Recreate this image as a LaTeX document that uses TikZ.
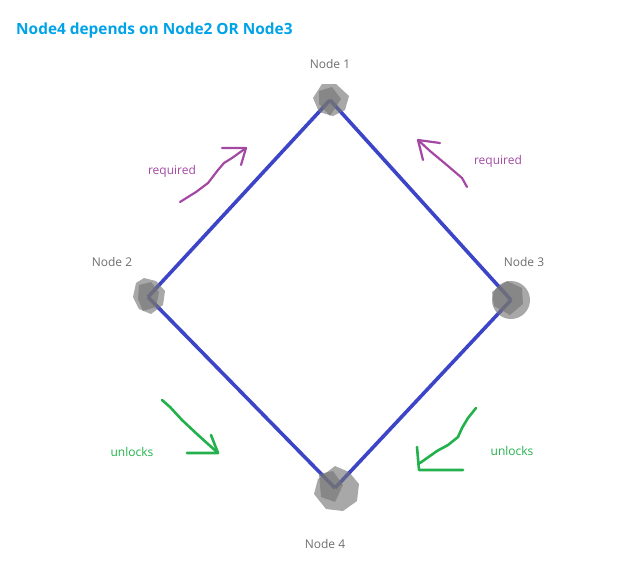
\documentclass[tikz,border=0pt]{standalone}
\usepackage{fontspec}
\setmainfont{Open Sans}
\usetikzlibrary{calc}
\definecolor{titleblue}{RGB}{0,162,232}
\definecolor{edgeblue}{RGB}{60,68,200}
\definecolor{nodegray}{RGB}{115,115,115}
\definecolor{labgray}{RGB}{110,110,110}
\definecolor{reqpurple}{RGB}{163,73,164}
\definecolor{unlgreen}{RGB}{34,177,76}
\tikzset{
  lbl/.style={font=\fontsize{12}{14}\selectfont, text=labgray, inner sep=0pt},
  edge/.style={draw=edgeblue, line width=3.6pt},
  blob/.style={fill=nodegray, fill opacity=0.62, draw=none},
  req/.style={draw=reqpurple, line width=2.2pt, line cap=round, line join=round},
  unl/.style={draw=unlgreen, line width=2.6pt, line cap=round, line join=round},
  reqtxt/.style={font=\fontsize{12}{14}\selectfont, text=reqpurple, inner sep=0pt},
  unltxt/.style={font=\fontsize{12}{14}\selectfont, text=unlgreen, inner sep=0pt},
  pt/.style={inner sep=0pt, minimum size=0pt}
}
\begin{document}
\begin{tikzpicture}[x=1pt,y=-1pt]
\useasboundingbox (0,0) rectangle (644,584);
\node[anchor=west, font=\bfseries\fontsize{15.4}{18}\selectfont, text=titleblue, inner sep=0pt] (title) at (16,30) {Node4 depends on Node2 OR Node3};

% node centres
\node[pt] (n1) at (330,100) {};
\node[pt] (n2) at (148,297) {};
\node[pt] (n3) at (511,300) {};
\node[pt] (n4) at (335,488) {};

% edges
\draw[edge] (n1.center) -- (n2.center);
\draw[edge] (n1.center) -- (n3.center);
\draw[edge] (n2.center) -- (n4.center);
\draw[edge] (n3.center) -- (n4.center);

% blobs
\fill[blob] (n1) ++(-8,-16) -- ++(14,0) -- ++(13,12) -- ++(-4,14) -- ++(-12,6) -- ++(-14,-4) -- ++(-6,-14) -- cycle;
\fill[blob] (n1) ++(-11,-9) -- ++(13,-4) -- ++(9,12) -- ++(-11,17) -- ++(-11,-12) -- cycle;

\fill[blob] (n2) ++(-4,-19) -- ++(12,3) -- ++(9,10) -- ++(-2,14) -- ++(-12,9) -- ++(-12,-5) -- ++(-6,-12) -- ++(3,-14) -- cycle;
\fill[blob] (n2) ++(-9,-12) -- ++(12,-3) -- ++(8,10) -- ++(-3,15) -- ++(-13,4) -- ++(-5,-12) -- cycle;

\fill[blob] (n3) circle (19);
\fill[blob] (n3) ++(-4,-19) -- ++(15,7) -- ++(1,16) -- ++(-13,11) -- ++(-16,-9) -- ++(-2,-14) -- cycle;

\fill[blob] (n4) ++(0,-22) -- ++(14,6) -- ++(10,12) -- ++(-2,17) -- ++(-14,10) -- ++(-17,-2) -- ++(-12,-15) -- ++(4,-15) -- cycle;
\fill[blob] (n4) ++(-16,-14) -- ++(14,-3) -- ++(10,14) -- ++(-8,17) -- ++(-14,-5) -- cycle;

% node labels
\node[lbl] (l1) at (330,64) {Node 1};
\node[lbl] (l2) at (112,262) {Node 2};
\node[lbl] (l3) at (524,262) {Node 3};
\node[lbl] (l4) at (325,544) {Node 4};

% required arrows
\coordinate (ra0) at (180,202);
\coordinate (ra1) at (246,148);
\draw[req] (ra0) -- (196,192) -- (208,183) -- (218,170) -- (224,163) -- (232,158) -- (ra1);
\draw[req] (222,148) -- (ra1) -- (241,165);
\node[reqtxt] (rt1) at (172,171) {required};

\coordinate (rb0) at (467,187);
\coordinate (rb1) at (418,140);
\draw[req] (rb0) -- (462,178) -- (448,166) -- (430,151) -- (rb1);
\draw[req] (440,143) -- (rb1) -- (423,160);
\node[reqtxt] (rt2) at (498,161) {required};

% unlocks arrows
\coordinate (ua0) at (162,400);
\coordinate (ua1) at (218,453);
\draw[unl] (ua0) -- (170,407) -- (182,420) -- (198,435) -- (ua1);
\draw[unl] (187,453) -- (ua1) -- (211,435);
\node[unltxt] (ut1) at (132,452) {unlocks};

\coordinate (ub0) at (476,408);
\coordinate (ub1) at (420,463);
\draw[unl] (ub0) -- (468,418) -- (462,428) -- (458,437) -- (448,445) -- (437,451) -- (ub1);
\draw[unl] (417,447) -- (419,470) -- (463,470);
\node[unltxt] (ut2) at (512,451) {unlocks};
\end{tikzpicture}
\end{document}
